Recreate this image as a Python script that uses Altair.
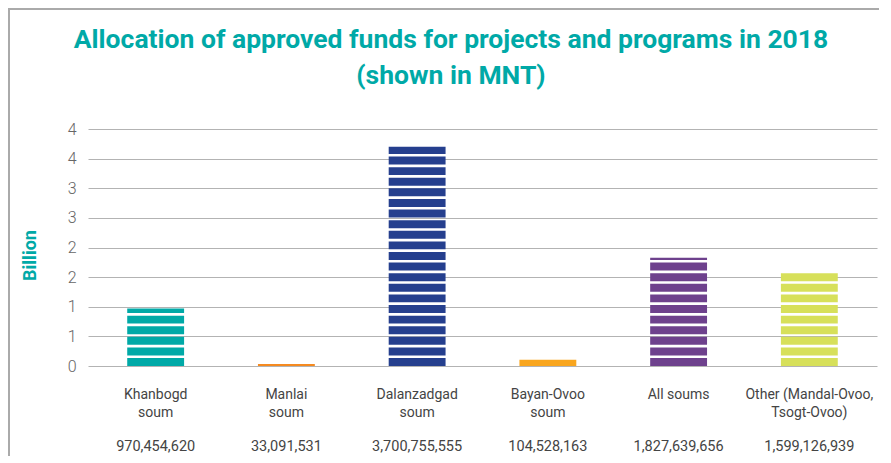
import altair as alt
import pandas as pd

categories = ["Khanbogd soum", "Manlai soum", "Dalanzadgad soum",
              "Bayan-Ovoo soum", "All soums", "Other (Mandal-Ovoo, Tsogt-Ovoo)"]
label_lines = ["Khanbogd\nsoum", "Manlai\nsoum", "Dalanzadgad\nsoum",
               "Bayan-Ovoo\nsoum", "All soums", "Other (Mandal-Ovoo,\nTsogt-Ovoo)"]
amounts_mnt = [970454620, 33091531, 3700755555, 104528163, 1827639656, 1599126939]
bar_colors = ["#00A9A7", "#F58A20", "#253F8E", "#F9A61F", "#6E418D", "#D7E05A"]
y_ticks = [0, 0.5, 1, 1.5, 2, 2.5, 3, 3.5, 4]
title_text = "Allocation of approved funds for projects and programs in 2018\n(shown in MNT)"

TEAL = "#00A9A7"
STRIPE_PITCH = 0.179   # billion per stripe (styling)
STRIPE_GAP = 0.045

base = pd.DataFrame({
    "cat": categories,
    "label": label_lines,
    "billion": [a / 1e9 for a in amounts_mnt],
    "amount": [f"{a:,}" for a in amounts_mnt],
})

# striped bar segments derived from the values
rows = []
for c, v in zip(categories, base["billion"]):
    k = 0
    while k * STRIPE_PITCH < v:
        lo = k * STRIPE_PITCH
        hi = min(lo + STRIPE_PITCH - STRIPE_GAP, v)
        if hi > lo:
            rows.append({"cat": c, "lo": lo, "hi": hi})
        k += 1
seg = pd.DataFrame(rows)

xscale = alt.Scale(domain=categories, paddingInner=0.565, paddingOuter=0.3)
xenc = alt.X("cat:N", scale=xscale, sort=categories, axis=None)

bars = alt.Chart(seg).mark_bar(cornerRadius=0).encode(
    x=xenc,
    y=alt.Y("lo:Q", scale=alt.Scale(domain=[0, 4], nice=False),
            axis=alt.Axis(values=y_ticks, format=".0f", title="Billion",
                          grid=True, gridColor="#b3b3b3", gridWidth=1.2,
                          domain=False, ticks=False,
                          labelFont="Roboto", labelFontSize=16, labelColor="#666666",
                          labelFontWeight=300, labelPadding=12,
                          titleFont="Roboto", titleFontSize=18, titleFontWeight="bold",
                          titleColor=TEAL, titleAngle=270, titleX=-58, titleY=126,
                          titleAlign="center", titleBaseline="middle")),
    y2="hi:Q",
    color=alt.Color("cat:N", scale=alt.Scale(domain=categories, range=bar_colors),
                    legend=None),
)

cat_text = alt.Chart(base).mark_text(
    font="Roboto", fontSize=14, color="#444444", baseline="alphabetic",
    lineBreak="\n", lineHeight=17.5, align="center"
).encode(x=xenc, y=alt.value(270), text="label:N")

num_text = alt.Chart(base).mark_text(
    font="Roboto", fontSize=14.5, color="#444444", baseline="alphabetic", align="center"
).encode(x=xenc, y=alt.value(322), text="amount:N")

title = alt.Chart(pd.DataFrame({"t": [title_text]})).mark_text(
    font="Roboto", fontSize=26.5, fontWeight="bold", color=TEAL, align="center",
    baseline="alphabetic", lineBreak="\n", lineHeight=36
).encode(x=alt.value(363), y=alt.value(-81), text="t:N")

frame_left = alt.Chart(base).mark_rule(color="#aaaaaa", strokeWidth=2).encode(
    x=alt.value(-79), y=alt.value(-121), y2=alt.value(330))
frame_top = alt.Chart(base).mark_rule(color="#aaaaaa", strokeWidth=2).encode(
    x=alt.value(-80), x2=alt.value(800), y=alt.value(-120))

chart = alt.layer(frame_left, frame_top, bars, cat_text, num_text, title).properties(
    width=789, height=237,
    autosize=alt.AutoSizeParams(type="none"),
    padding={"left": 80, "top": 121, "right": 2, "bottom": 90},
).configure_view(stroke=None)

chart.save("out.html", embed_options={"renderer": "svg", "actions": False})
